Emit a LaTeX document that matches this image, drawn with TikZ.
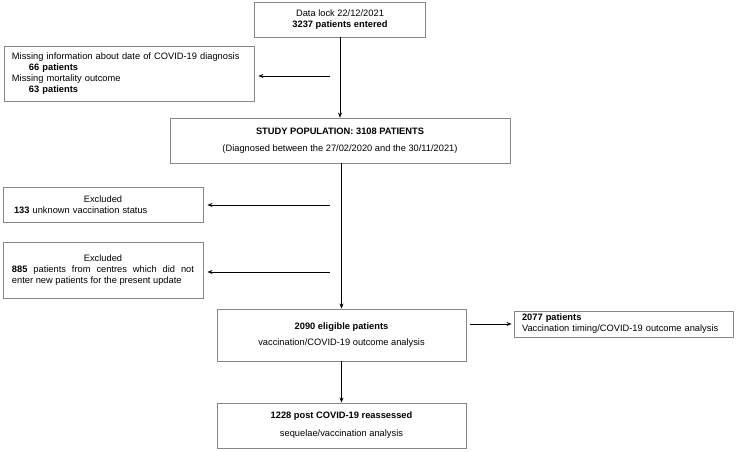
\documentclass[tikz,border=0pt]{standalone}
\usepackage{fontspec}
\setmainfont{Liberation Sans}
\usepackage{xcolor}
\usetikzlibrary{arrows.meta}
\definecolor{boxgray}{RGB}{135,135,135}
\newcommand{\fs}{\fontsize{9.3}{11}\selectfont}

\begin{document}
\begin{tikzpicture}[x=1pt, y=-1pt,
  box/.style={draw=boxgray, line width=0.9pt, inner sep=0pt, align=center, font=\fs},
  arr/.style={-{Stealth[length=5pt,width=4pt]}, line width=0.6pt}]
\useasboundingbox (0,0) rectangle (736,451);

\node[box, minimum width=171, minimum height=35] (lock) at (340,19.5)
  {Data lock 22/12/2021\\ \textbf{3237 patients entered}};
\node[box, minimum width=250, minimum height=55, text width=234, align=left] (miss) at (129,74)
  {Missing information about date of COVID-19 diagnosis\\
   \hspace*{17pt}\textbf{66 patients}\\
   Missing mortality outcome\\
   \hspace*{17pt}\textbf{63 patients}};
\node[box, minimum width=340, minimum height=45] (pop) at (340,140.5)
  {\textbf{STUDY POPULATION: 3108 PATIENTS}\\[6pt](Diagnosed between the 27/02/2020 and the 30/11/2021)};
\node[box, minimum width=200, minimum height=35, text width=178, align=left] (ex1) at (103,204.5)
  {\makebox[178pt]{Excluded}\\ \textbf{133} unknown vaccination status};
\node[box, minimum width=200, minimum height=56, text width=182, align=justify] (ex2) at (103,270)
  {\makebox[182pt]{Excluded}\\ \textbf{885} patients from centres which did not\linebreak enter new patients for the present update};
\node[box, minimum width=249, minimum height=52] (elig) at (341.5,335)
  {\textbf{2090 eligible patients}\\[5pt]vaccination/COVID-19 outcome analysis};
\node[box, minimum width=219, minimum height=26, text width=203, align=left] (tim) at (623.5,324)
  {\textbf{2077 patients}\\ Vaccination timing/COVID-19 outcome analysis};
\node[box, minimum width=249, minimum height=45] (post) at (341.5,425.5)
  {\textbf{1228 post COVID-19 reassessed}\\[7pt]sequelae/vaccination analysis};

% free ends of the side arrows
\coordinate (s1) at (330,76);
\coordinate (s2) at (330,205);
\coordinate (s3) at (330,272);

\draw[arr] (lock.south) -- (pop.north);
\draw[arr] (s1) -- (s1 -| miss.east) [shorten >=4pt];
\draw[arr] (pop.south -| elig.north) -- (elig.north);
\draw[arr, shorten >=4pt] (s2) -- (s2 -| ex1.east);
\draw[arr, shorten >=4pt] (s3) -- (s3 -| ex2.east);
\draw[arr, shorten <=4pt, shorten >=2pt] (elig.east |- tim.west) -- (tim.west);
\draw[arr] (elig.south) -- (post.north);
\end{tikzpicture}
\end{document}
